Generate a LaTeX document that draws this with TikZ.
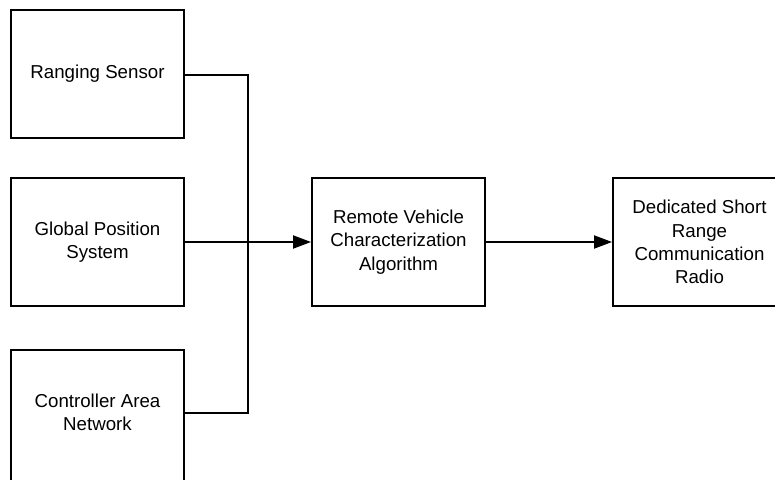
\documentclass[tikz,border=0pt]{standalone}
\usepackage{fontspec}
\setmainfont{Liberation Sans}
\usetikzlibrary{arrows.meta}
\begin{document}
\begin{tikzpicture}[x=1pt,y=-1pt,
  blk/.style={draw=black,line width=1.9pt,minimum width=173pt,minimum height=128pt,inner sep=0pt,align=center,font=\fontsize{18.7pt}{23.3pt}\selectfont},
  wire/.style={draw=black,line width=1.9pt},
  arr/.style={wire,-{Triangle[length=18pt,width=13pt]}}]
\useasboundingbox (0,0) rectangle (775,479);
\clip (0,0) rectangle (775,479);
\fill[white] (0,0) rectangle (775,479);
\node[blk] (rs) at (97.5,74) {Ranging Sensor};
\node[blk] (gps) at (97.5,242) {Global Position\\System};
\node[blk,minimum height=134pt,text depth=10pt] (can) at (97.5,417) {Controller Area\\Network};
\node[blk] (rvca) at (398.5,242) {Remote Vehicle\\Characterization\\Algorithm};
\node[blk] (dsrc) at (699.5,242) {Dedicated Short\\Range\\Communication\\Radio};
\coordinate (j) at (248,242);
\draw[wire] (rs.east |- 0,75) -| (j);
\draw[wire] (can.east |- 0,413) -| (j);
\draw[arr] (gps.east) -- (rvca.west);
\draw[arr] (rvca.east) -- (dsrc.west);
\end{tikzpicture}
\end{document}
